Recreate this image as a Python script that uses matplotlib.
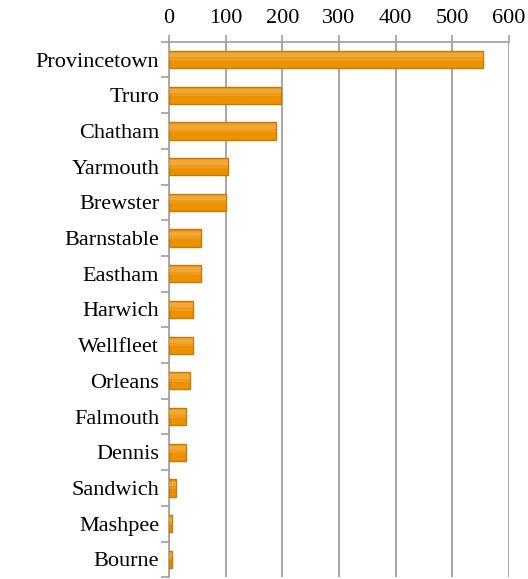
import numpy as np
import matplotlib
matplotlib.use("Agg")
import matplotlib.pyplot as plt

towns = ["Provincetown", "Truro", "Chatham", "Yarmouth", "Brewster", "Barnstable",
         "Eastham", "Harwich", "Wellfleet", "Orleans", "Falmouth", "Dennis",
         "Sandwich", "Mashpee", "Bourne"]
values = [554, 197, 189, 105, 100, 57, 56, 42, 42, 37, 30, 30, 12, 6, 6]
ticks = [0, 100, 200, 300, 400, 500, 600]

plt.rcParams["font.family"] = ["Liberation Serif", "DejaVu Serif"]

fig = plt.figure(figsize=(5.28, 5.79), dpi=100)
ax = fig.add_axes([0.320, 0.003, 0.644, 0.925])

y = np.arange(len(towns))
ax.barh(y, values, height=0.48, color="#EC9200", edgecolor="#C57A05", linewidth=1.0, zorder=3)
# soft gradient-like highlight on the upper part of each bar
ax.barh(y - 0.09, values, height=0.24, color="#F4B45C", alpha=0.3, linewidth=0, zorder=4)
ax.barh(y - 0.12, values, height=0.12, color="#F6C57E", alpha=0.3, linewidth=0, zorder=4)

ax.set_xlim(0, 600)
ax.set_ylim(len(towns) - 0.5, -0.5)
ax.set_xticks(ticks)
ax.xaxis.tick_top()
ax.tick_params(axis="x", labelsize=16, length=5, color="#A0A0A0", width=1.2, pad=5)
ax.set_yticks(y)
ax.set_yticklabels(towns)
ax.set_yticks(np.arange(len(towns) + 1) - 0.5, minor=True)
ax.tick_params(axis="y", which="major", length=0, labelsize=16, pad=7)
ax.tick_params(axis="y", which="minor", length=6, color="#A0A0A0", width=1.2)
ax.grid(axis="x", color="#A6A6A6", linewidth=1.4, zorder=0)

for side in ["right", "bottom"]:
    ax.spines[side].set_visible(False)
for side in ["left", "top"]:
    ax.spines[side].set_color("#A0A0A0")
    ax.spines[side].set_linewidth(1.2)

fig.savefig("out.png", dpi=100)
